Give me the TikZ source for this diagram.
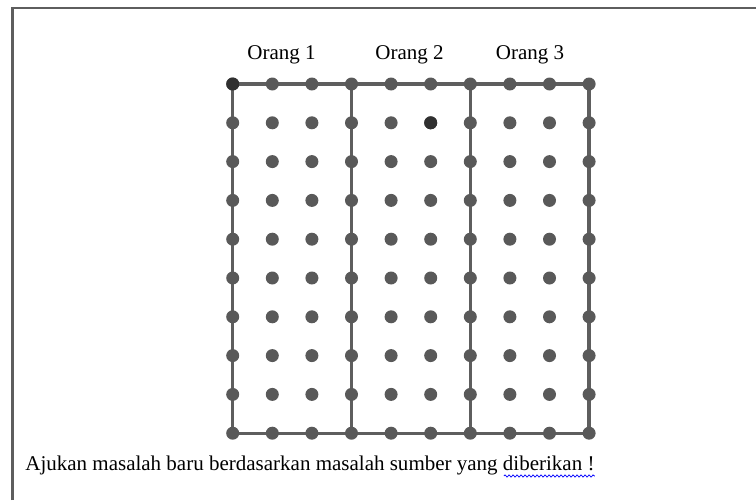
\documentclass[tikz,border=0pt]{standalone}
\usepackage{fontspec}
\setmainfont{Liberation Serif}
\usetikzlibrary{positioning, calc, backgrounds, decorations.pathmorphing}

\definecolor{peggray}{HTML}{595959}
\definecolor{railgray}{HTML}{5E5E5E}
\definecolor{peggdark}{HTML}{303030}

\begin{document}
\begin{tikzpicture}[
      x=0.2mm, y=-0.2mm,
      every node/.style={inner sep=0pt, font=\fontsize{11.95}{14}\selectfont},
      gridpt/.style={circle, fill=peggray, minimum size=2.6mm},
      rail/.style={draw=railgray, line width=0.65mm},
      frameline/.style={draw=railgray, line width=0.45mm},
      squiggle/.style={draw=blue, line width=0.15mm,
        decorate, decoration={snake, amplitude=0.22mm, segment length=0.8mm}}
    ]
      \useasboundingbox (0,0) rectangle (756,500);
      \draw[frameline] (12.5,500) -- (12.5,8) -- (756,8);

      % pegs of the board
      \foreach \i in {0,...,9}
        \foreach \j in {0,...,9}
          \node[gridpt] (d-\i-\j) at ({232.7+39.6*\i},{84+38.8*\j}) {};
      \node[gridpt, fill=peggdark] at (d-0-0) {};
      \node[gridpt, fill=peggdark] at (d-5-1) {};

      \begin{scope}[on background layer]
        \draw[rail] (d-0-0.center) -- (d-9-0.center);
        \draw[rail] (d-0-9.center) -- (d-9-9.center);
        \foreach \i in {0,3,6,9}
          \draw[rail] (d-\i-0.center) -- (d-\i-9.center);
      \end{scope}

      \node[anchor=base] (orang1) at (281.5,59) {Orang 1};
      \node[anchor=base] (orang2) at (409.5,59) {Orang 2};
      \node[anchor=base] (orang3) at (530,59) {Orang 3};

      \node[anchor=base west] (ask) at (25,470)
        {Ajukan masalah baru berdasarkan masalah sumber yang diberikan !};
      \draw[squiggle] ($(ask.base east)+(-91,6)$) -- ($(ask.base east)+(0,6)$);
    \end{tikzpicture}
\end{document}
